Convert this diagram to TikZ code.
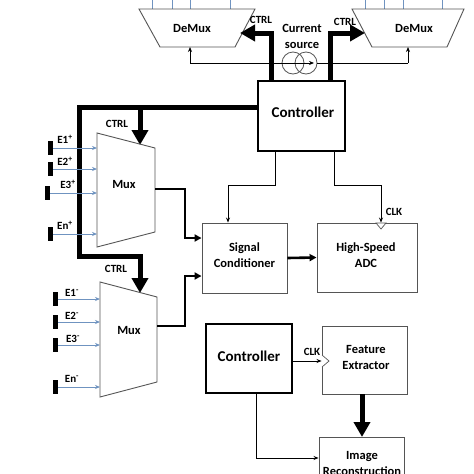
\documentclass[tikz,border=0pt]{standalone}
\usepackage{fontspec}
\setmainfont{Carlito}
\usetikzlibrary{arrows.meta}
\definecolor{edge}{HTML}{555555}
\definecolor{sigblue}{HTML}{6F93C0}
\begin{document}
\begin{tikzpicture}[x=1pt,y=-1pt,
  lbl/.style={font=\bfseries\fontsize{12.5}{15}\selectfont, inner sep=0pt, align=center},
  big/.style={font=\bfseries\fontsize{15}{18}\selectfont, inner sep=0pt},
  small/.style={font=\bfseries\fontsize{11}{13}\selectfont, inner sep=0pt},
  shp/.style={draw=edge, line width=0.9pt},
  blk/.style={draw=edge, line width=0.9pt, rectangle, inner sep=0pt},
  ctlbox/.style={draw=black, line width=2.6pt, rectangle, inner sep=0pt},
  bus/.style={line width=5pt},
  busarrow/.style={line width=5pt, -{Triangle[length=15pt,width=16pt]}},
  medarrow/.style={line width=2.6pt, -{Triangle[length=7pt,width=7pt]}},
  thinarrow/.style={line width=0.8pt, -{Stealth[length=5pt,width=4pt]}},
  bar/.style={fill=black, draw=none, minimum width=5pt, minimum height=14pt, inner sep=0pt},
  bluearrow/.style={draw=sigblue, line width=0.8pt, -{Stealth[length=5pt,width=4pt]}},
  clk/.style={draw=edge, line width=0.7pt, fill=white},
]
\clip (0,0) rectangle (474,474);
\fill[white] (0,0) rectangle (474,474);

% blue lines above the demultiplexers
\foreach \x in {152,172,190,230,365,384,403,442}
  \draw[draw=sigblue, line width=0.8pt] (\x,0) -- (\x,9);

% DeMux shapes
\draw[shp] (139,9) -- (255,9) -- (235,47) -- (160,47) -- cycle;
\node[lbl] (dmL) at (192,28) {DeMux};
\draw[shp] (352,9) -- (464,9) -- (447,47) -- (372,47) -- cycle;
\node[lbl] (dmR) at (414,28) {DeMux};
\coordinate (dmLb) at (190,47);
\coordinate (dmRb) at (408,47);
\coordinate (dmLin) at (240,33);
\coordinate (dmRin) at (365,33);

% current source
\node[lbl] (cstext) at (302,36) {Current\\[1pt]source};
\node[circle, draw=edge, line width=0.8pt, minimum size=22pt, inner sep=0pt] (cs1) at (293,63) {};
\node[circle, draw=edge, line width=0.8pt, minimum size=22pt, inner sep=0pt] (cs2) at (306,63) {};
\coordinate (j1) at (190,63);
\coordinate (j2) at (408,63);
\coordinate (csTip) at (314,63);
\draw[thinarrow] (j1) -- (dmLb);
\draw[thinarrow] (j2) -- (dmRb);
\draw[line width=0.8pt] (j1) -- (cs1.west);
\draw[thinarrow] (cs1.west) -- (csTip);
\draw[line width=0.8pt] (cs2.east) -- (j2);

% top controller
\node[ctlbox, minimum width=87pt, minimum height=70pt] (ctl) at (301.5,116) {};
\node[big] (ctltext) at (303,112) {Controller};

% CTRL buses to demux
\coordinate (cL) at (271,0);
\coordinate (cR) at (330,0);
\draw[busarrow] (ctl.north -| cL) |- (dmLin);
\draw[busarrow] (ctl.north -| cR) |- (dmRin);
\node[small] (ctrlL) at (261,20) {CTRL};
\node[small] (ctrlR) at (345,22) {CTRL};

% main bus to muxes
\coordinate (busTL) at (79,107);
\coordinate (busBL) at (79,256);
\coordinate (busBR) at (140,256);
\coordinate (busT) at (140,107);
\coordinate (mux1top) at (140,145);
\coordinate (mux2top) at (140,293);
\draw[bus, line join=miter] (ctl.west |- busTL) -- (busTL) -- (busBL) -- ([xshift=2.5pt]busBR);
\draw[busarrow] ([yshift=-2.5pt]busT) -- (mux1top);
\draw[busarrow] ([yshift=-2.5pt]busBR) -- (mux2top);
\node[small] (ctrl1) at (117,124) {CTRL};
\node[small] (ctrl2) at (116,269) {CTRL};

% Mux 1
\draw[shp] (97,133) -- (155,148) -- (155,232) -- (97,247) -- cycle;
\node[lbl] (mux1) at (124,184) {Mux};
% Mux 2
\draw[shp] (100,282) -- (157,297) -- (157,382) -- (100,397) -- cycle;
\node[lbl] (mux2) at (129,330) {Mux};

% inputs, positive
\node[bar] (p1) at (50.5,148) {};
\node[bar] (p2) at (50.5,169) {};
\node[bar] (p3) at (47.5,193) {};
\node[bar] (p4) at (50.5,234) {};
\draw[bluearrow] (p1.east) -- (97,148);
\draw[bluearrow] (p2.east) -- (97,169);
\draw[bluearrow] (p3.east) -- (97,193);
\draw[bluearrow] (p4.east) -- (97,234);
\node[small] (lp1) at (65,139) {E1\textsuperscript{+}};
\node[small] (lp2) at (65,161) {E2\textsuperscript{+}};
\node[small] (lp3) at (68,184) {E3\textsuperscript{+}};
\node[small] (lp4) at (65,225) {En\textsuperscript{+}};

% inputs, negative
\node[bar] (n1) at (55.5,299) {};
\node[bar] (n2) at (55.5,322) {};
\node[bar] (n3) at (55.5,345) {};
\node[bar] (n4) at (55.5,387) {};
\draw[bluearrow] (n1.east) -- (100,299);
\draw[bluearrow] (n2.east) -- (100,322);
\draw[bluearrow] (n3.east) -- (100,345);
\draw[bluearrow] (n4.east) -- (100,387);
\node[small] (ln1) at (72,293) {E1\textsuperscript{-}};
\node[small] (ln2) at (72,316) {E2\textsuperscript{-}};
\node[small] (ln3) at (73,339) {E3\textsuperscript{-}};
\node[small] (ln4) at (72,379) {En\textsuperscript{-}};

% signal conditioner and ADC
\node[blk, minimum width=85pt, minimum height=70pt] (sc) at (244.5,258) {};
\node[lbl] (sctext) at (244.5,255) {Signal\\[1pt]Conditioner};
\node[blk, minimum width=100pt, minimum height=69pt] (adc) at (367,257.5) {};
\node[lbl] (adctext) at (366,255) {High-Speed\\[1pt]ADC};

% mux outputs
\coordinate (m1o) at (155,189);
\coordinate (m1k) at (185,238);
\coordinate (m2o) at (157,326);
\coordinate (m2k) at (185,276);
\draw[medarrow] (m1o) -| (m1k) -- (m1k -| sc.west);
\draw[medarrow] (m2o) -| (m2k) -- (m2k -| sc.west);
\draw[medarrow] (sc.east) -- (adc.west);

% control lines to SC and ADC
\coordinate (t1) at (275,185);
\coordinate (t2) at (228,185);
\coordinate (t3) at (334,185);
\coordinate (t4) at (381,185);
\draw[thinarrow] (ctl.south -| t1) -- (t1) -- (t2) -- (t2 |- sc.north);
\draw[thinarrow] (ctl.south -| t3) -- (t3) -- (t4) -- (t4 |- adc.north);
\draw[clk] (376,223) -- (386,223) -- (381,229) -- cycle;
\node[small] (clk1) at (394,212) {CLK};

% lower controller, feature extractor, image reconstruction
\node[ctlbox, minimum width=86pt, minimum height=69pt] (ctl2) at (249,358.5) {};
\node[big] (ctl2text) at (249,356) {Controller};
\node[blk, minimum width=85pt, minimum height=68pt] (fe) at (364.5,360) {};
\node[lbl] (fetext) at (366,357) {Feature\\[1pt]Extractor};
\node[blk, minimum width=85pt, minimum height=70pt, anchor=north] (img) at (361.5,437) {};
\node[lbl] (imgtext) at (362,463) {Image\\[1pt]Reconstruction};

\coordinate (c2a) at (0,361);
\draw[thinarrow] (ctl2.east |- c2a) -- (fe.west |- c2a);
\draw[clk] (322,355) -- (329,361) -- (322,367);
\node[small] (clk2) at (312,352) {CLK};
\draw[busarrow] (fe.south -| 362,0) -- (img.north -| 362,0);
\coordinate (c2b) at (256,458);
\draw[thinarrow] (ctl2.south -| c2b) -- (c2b) -- (c2b -| img.west);
\end{tikzpicture}
\end{document}
